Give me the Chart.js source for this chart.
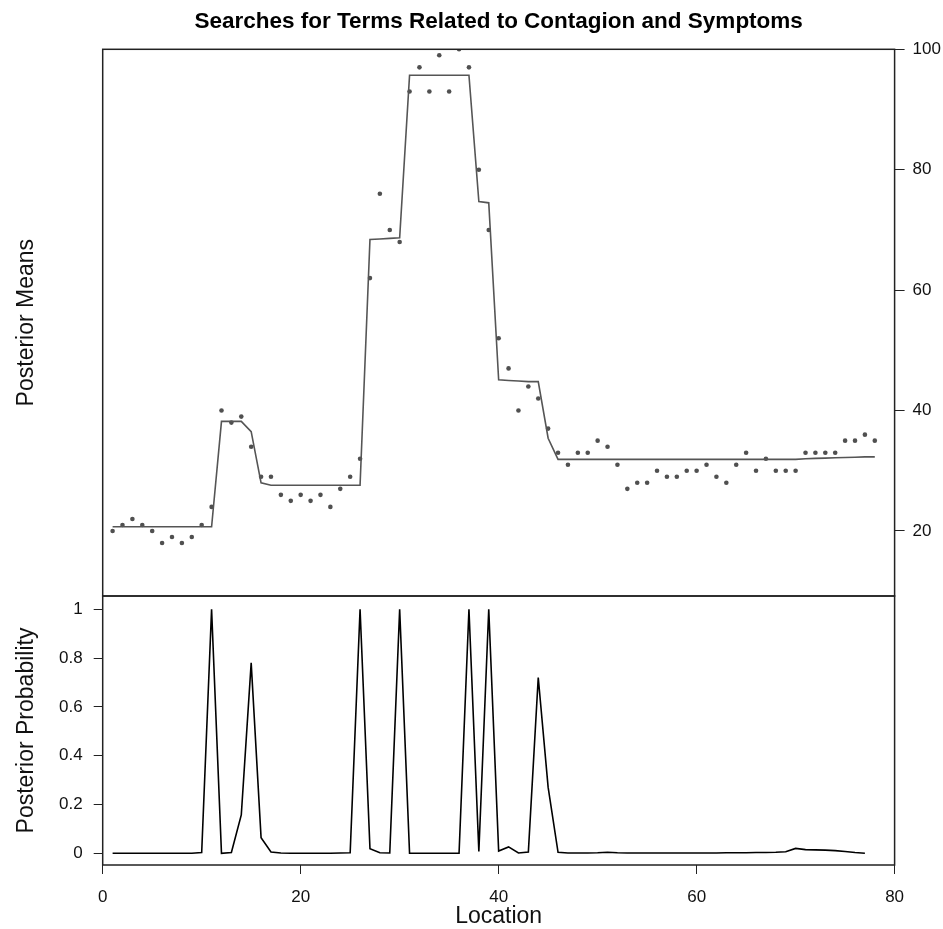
<!DOCTYPE html>
<html><head><meta charset="utf-8">
<script src="https://cdn.jsdelivr.net/npm/chart.js@4"></script>
<style>
html,body{margin:0;padding:0;background:#fff;}
#wrap{position:relative;width:943px;height:929px;background:#fff;}
canvas{position:absolute;left:0;top:0;}
</style></head><body>
<div id="wrap"><canvas id="topChart" width="943" height="929"></canvas><canvas id="botChart" width="943" height="929"></canvas></div>
<script>
const locations = [1,2,3,4,5,6,7,8,9,10,11,12,13,14,15,16,17,18,19,20,21,22,23,24,25,26,27,28,29,30,31,32,33,34,35,36,37,38,39,40,41,42,43,44,45,46,47,48,49,50,51,52,53,54,55,56,57,58,59,60,61,62,63,64,65,66,67,68,69,70,71,72,73,74,75,76,77,78];
const searchValues = [20,21,22,21,20,18,19,18,19,21,24,40,38,39,34,29,29,26,25,26,25,26,24,27,29,32,62,76,70,68,93,97,93,99,93,100,97,80,70,52,47,40,44,42,37,33,31,33,33,35,34,31,27,28,28,30,29,29,30,30,31,29,28,31,33,30,32,30,30,30,33,33,33,33,35,35,36,35];
const posteriorMeans = [20.7,20.7,20.7,20.7,20.7,20.7,20.7,20.7,20.7,20.7,20.7,38.2,38.2,38.2,36.5,28.0,27.6,27.6,27.6,27.6,27.6,27.6,27.6,27.6,27.6,27.6,68.4,68.5,68.6,68.7,95.7,95.7,95.7,95.7,95.7,95.7,95.7,74.7,74.5,45.1,45.0,44.9,44.8,44.8,35.4,31.9,31.9,31.9,31.9,31.9,31.9,31.9,31.9,31.9,31.9,31.9,31.9,31.9,31.9,31.9,31.9,31.9,31.9,31.9,31.9,31.9,31.9,31.9,31.9,31.9,32.0,32.05,32.1,32.15,32.2,32.25,32.3,32.3];
const changeLocations = [1,2,3,4,5,6,7,8,9,10,11,12,13,14,15,16,17,18,19,20,21,22,23,24,25,26,27,28,29,30,31,32,33,34,35,36,37,38,39,40,41,42,43,44,45,46,47,48,49,50,51,52,53,54,55,56,57,58,59,60,61,62,63,64,65,66,67,68,69,70,71,72,73,74,75,76,77];
const posteriorProbability = [0,0,0,0,0,0,0,0,0,0.003,1.0,0,0.003,0.157,0.78,0.064,0.005,0.001,0,0,0,0,0,0.001,0.002,1.0,0.019,0.002,0.001,1.0,0,0,0,0,0,0,1.0,0.007,1.0,0.009,0.026,0.001,0.005,0.72,0.27,0.004,0.001,0.001,0.001,0.002,0.004,0.002,0.001,0.001,0.001,0.001,0.001,0.001,0.001,0.001,0.001,0.001,0.002,0.002,0.002,0.003,0.003,0.004,0.006,0.02,0.015,0.014,0.013,0.011,0.007,0.003,0];
const xTicks = [0,20,40,60,80];
const meanTicks = [20,40,60,80,100];
const probTicks = [0,0.2,0.4,0.6,0.8,1];

const FONT = '"Liberation Sans", Arial, Helvetica, sans-serif';
const boxPlugin = {
  id: 'box',
  afterDatasetsDraw(chart) {
    const {ctx, chartArea: a} = chart;
    ctx.save();
    ctx.strokeStyle = '#222';
    ctx.lineWidth = 1.5;
    ctx.strokeRect(a.left, a.top, a.right - a.left, a.bottom - a.top);
    ctx.restore();
  }
};
const fmt = v => String(v);

new Chart(document.getElementById('topChart'), {
  type: 'scatter',
  data: {
    datasets: [
      { type: 'line', data: locations.map((x, i) => ({x: x, y: posteriorMeans[i]})),
        borderColor: '#555', borderWidth: 1.6, pointRadius: 0, fill: false, tension: 0 },
      { type: 'scatter', data: locations.map((x, i) => ({x: x, y: searchValues[i]})),
        backgroundColor: '#505050', borderWidth: 0, pointRadius: 2.3 }
    ]
  },
  options: {
    responsive: false, animation: false, events: [],
    layout: {padding: {left: 0, right: 0, top: 0, bottom: 333}},
    plugins: {
      legend: {display: false}, tooltip: {enabled: false},
      title: {display: true, text: 'Searches for Terms Related to Contagion and Symptoms', fullSize: false,
        color: '#000', font: {family: FONT, size: 22.5, weight: 'bold', lineHeight: 1.2}, padding: {top: 8.5, bottom: 13.8}}
    },
    scales: {
      x: {type: 'linear', min: 0, max: 80, display: false},
      y: {type: 'linear', position: 'right', min: 9.2, max: 100,
        afterBuildTicks(s) { s.ticks = meanTicks.map(v => ({value: v})); },
        afterFit(s) { s.width = 48.4; },
        grid: {display: true, drawOnChartArea: false, drawTicks: true, tickLength: 10, color: '#222', lineWidth: 1},
        border: {display: false},
        ticks: {color: '#111', padding: 8, callback: fmt, font: {family: FONT, size: 17}}},
      yL: {type: 'linear', position: 'left', min: 9.2, max: 100,
        afterFit(s) { s.width = 102.7; },
        grid: {display: false}, border: {display: false}, ticks: {display: false},
        title: {display: true, text: 'Posterior Means', color: '#111', font: {family: FONT, size: 23, lineHeight: 1.2}, padding: {top: 13.2, bottom: 0}}}
    }
  },
  plugins: [boxPlugin]
});

new Chart(document.getElementById('botChart'), {
  type: 'line',
  data: {
    datasets: [
      { data: changeLocations.map((x, i) => ({x: x, y: posteriorProbability[i]})),
        borderColor: '#000', borderWidth: 1.6, pointRadius: 0, fill: false, tension: 0 }
    ]
  },
  options: {
    responsive: false, animation: false, events: [],
    layout: {padding: {left: 0, right: 48.4, top: 596, bottom: 0}},
    plugins: {legend: {display: false}, tooltip: {enabled: false}},
    scales: {
      x: {type: 'linear', position: 'bottom', min: 0, max: 80,
        afterBuildTicks(s) { s.ticks = xTicks.map(v => ({value: v})); },
        afterFit(s) { s.height = 64; },
        grid: {display: true, drawOnChartArea: false, drawTicks: true, tickLength: 9, color: '#222'},
        border: {display: false},
        ticks: {color: '#111', padding: 12.8, maxRotation: 0, callback: fmt, font: {family: FONT, size: 17, lineHeight: 1.2}},
        title: {display: true, text: 'Location', color: '#111', font: {family: FONT, size: 23, lineHeight: 1.2}, padding: {top: 0, bottom: -1.5}}},
      y: {type: 'linear', position: 'left', min: -0.048, max: 1.054,
        afterBuildTicks(s) { s.ticks = probTicks.map(v => ({value: v})); },
        afterFit(s) { s.width = 102.7; },
        grid: {display: true, drawOnChartArea: false, drawTicks: true, tickLength: 9, color: '#222'},
        border: {display: false},
        ticks: {color: '#111', padding: 11, callback: fmt, font: {family: FONT, size: 17}},
        title: {display: true, text: 'Posterior Probability', color: '#111', font: {family: FONT, size: 23, lineHeight: 1.2}, padding: {top: 13.2, bottom: 0}}}
    }
  },
  plugins: [boxPlugin]
});
</script>
</body></html>
